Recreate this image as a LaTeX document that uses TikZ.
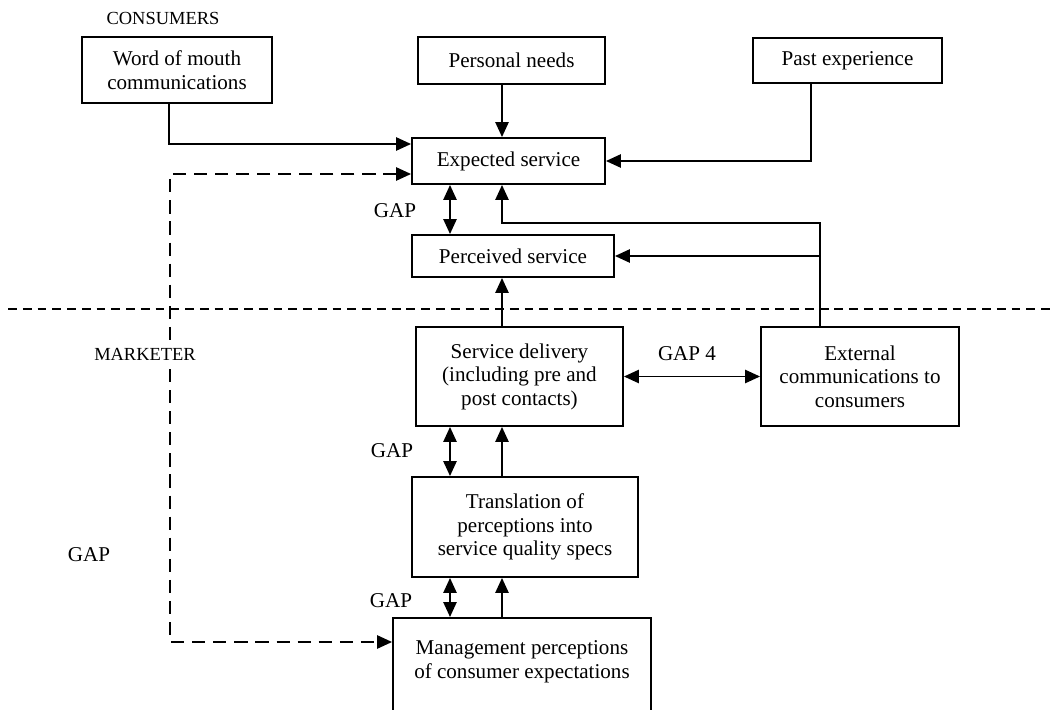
\documentclass[tikz,border=0pt]{standalone}
\usepackage{fontspec}
\setmainfont{Liberation Serif}
\usetikzlibrary{arrows.meta,calc}
\tikzset{gapmodel/.style={
  x=0.02cm, y=-0.02cm,
  font=\fontsize{12}{13.4}\selectfont,
  box/.style={draw, line width=1.1pt, align=center, inner sep=2pt},
  flow/.style={-{Triangle[length=8.5pt,width=7.5pt]}, line width=1.1pt},
  twoway/.style={{Triangle[length=8.5pt,width=7.5pt]}-{Triangle[length=8.5pt,width=7.5pt]}, line width=1.1pt},
  gapline/.style={twoway, dash pattern=on 7.5pt off 4.5pt},
  divider/.style={line width=0.9pt, dash pattern=on 5pt off 3.4pt},
  side/.style={font=\fontsize{10.5}{12}\selectfont},
}}

\begin{document}
\begin{tikzpicture}[gapmodel]
\useasboundingbox (0,0) rectangle (1055,710);

% ---- consumer side ----
\node[side] (consumers) at (163,18) {CONSUMERS};
\node[box, minimum width=3.8cm, minimum height=1.32cm] (word) at (177,70) {Word of mouth\\communications};
\node[box, minimum width=3.74cm, minimum height=0.94cm] (needs) at (511.5,60.5) {Personal needs};
\node[box, minimum width=3.78cm, minimum height=0.9cm] (past) at (847.5,60.5) {Past experience};
\node[box, minimum width=3.86cm, minimum height=0.92cm] (expected) at (508.5,161) {Expected service};
\node[box, minimum width=4.04cm, minimum height=0.84cm] (perceived) at (513,256) {Perceived service};

% ---- dividing line ----
\draw[divider] (8,309) -- (1055,309);

% ---- marketer side ----
\node[box, minimum width=4.14cm, minimum height=1.98cm] (delivery) at (519.5,376.5) {Service delivery\\(including pre and\\post contacts)};
\node[box, minimum width=3.96cm, minimum height=1.98cm] (external) at (860,376.5) {External\\communications to\\consumers};
\node[box, minimum width=4.52cm, minimum height=2.0cm] (translation) at (525,527) {Translation of\\perceptions into\\service quality specs};
\node[box, minimum width=5.16cm, anchor=north, inner ysep=13pt] (mgmt) at (522,617) {Management perceptions\\of consumer expectations\\[40pt]\mbox{}};

% ---- gap labels ----
\node (gap5) at (395,211) {GAP};
\node (gap4) at (687,354) {GAP 4};
\node (gap3) at (392,451) {GAP};
\node (gap2) at (391,601) {GAP};
\node (gap1) at (89,555) {GAP};

% ---- connector lanes ----
\coordinate (main) at (502,0);
\coordinate (gapx) at (450,0);
\coordinate (wordx) at (169,144);
\coordinate (pastx) at (811,0);
\coordinate (extx) at (820,223);
\coordinate (feed) at (502,223);
\coordinate (dtop) at (170,174);
\coordinate (dbot) at (170,642);

% ---- connectors ----
\draw[flow] (word.south -| wordx) -- (wordx) -- (expected.west |- wordx);
\draw[flow] (needs.south -| main) -- (expected.north -| main);
\draw[flow] (past.south -| pastx) |- (expected.east);
\draw[flow] (external.north -| extx) -- (extx) -- (feed) -- (expected.south -| main);
\draw[flow] (perceived.east -| extx) -- (perceived.east);
\draw[flow] (delivery.north -| main) -- (perceived.south -| main);
\draw[flow] (translation.north -| main) -- (delivery.south -| main);
\draw[flow] (mgmt.north -| main) -- (translation.south -| main);
\draw[twoway] (expected.south -| gapx) -- (perceived.north -| gapx);
\draw[twoway] (delivery.south -| gapx) -- (translation.north -| gapx);
\draw[twoway] (translation.south -| gapx) -- (mgmt.north -| gapx);
\draw[twoway] (delivery.east) -- (external.west);
\draw[gapline] (expected.west |- dtop) -- (dtop) -- (dbot) -- (mgmt.west |- dbot);

% label sits over the dashed lane
\node[side, fill=white, inner sep=4pt] (marketer) at (145,354) {MARKETER};
\end{tikzpicture}
\end{document}
